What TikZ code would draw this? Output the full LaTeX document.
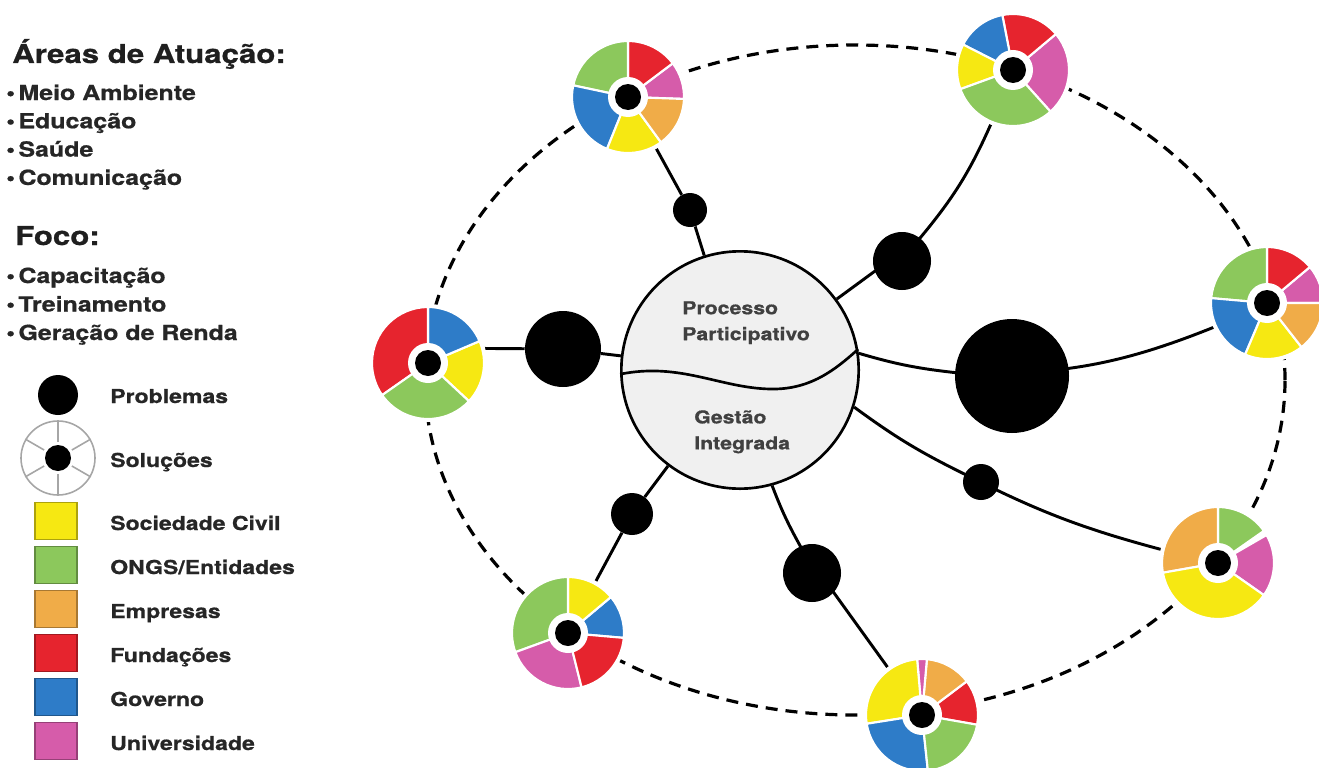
\documentclass[tikz,border=0pt]{standalone}
\usepackage{fontspec}
\setmainfont{TeX Gyre Heros}[FakeStretch=1.2, BoldFeatures={FakeBold=0.7}]

\definecolor{uYellow}{RGB}{246,232,18}
\definecolor{uGreen}{RGB}{140,200,92}
\definecolor{uOrange}{RGB}{240,172,72}
\definecolor{uRed}{RGB}{230,36,46}
\definecolor{uBlue}{RGB}{46,124,200}
\definecolor{uPink}{RGB}{214,92,170}

% #1 = centre, #2 = list of start/end/colour
\newcommand{\drawwheel}[2]{%
	\fill[white] (#1.center) circle (59);
	\foreach \a/\b/\col in {#2}{
			\fill[\col, draw=white, line width=1.6pt] (#1.center) -- ++(\a:56) arc[start angle=\a, end angle=\b, radius=56] -- cycle;
		}
	\fill[white] (#1.center) circle (20);
	\fill[black] (#1.center) circle (13);
}

\begin{document}
\begin{tikzpicture}[x=0.75pt, y=0.75pt,
		link/.style={line width=2.2pt},
		ring/.style={line width=2.4pt, dash pattern=on 9pt off 6pt},
		hub/.style={circle, draw, line width=2pt, fill=black!6, minimum size=178pt, inner sep=0pt},
		prob/.style={circle, fill=black, inner sep=0pt, minimum size=#1},
		wheel/.style={circle, inner sep=0pt, minimum size=84pt},
		hubtext/.style={font=\bfseries\fontsize{13.3}{19.5}\selectfont, text=black!75, align=left, inner sep=0pt},
		title/.style={font=\bfseries\fontsize{19.5}{22}\selectfont, text=black!88, inner sep=0pt},
		item/.style={font=\bfseries\fontsize{15.6}{18}\selectfont, text=black!85, inner sep=0pt},
		keylabel/.style={font=\bfseries\fontsize{14.4}{17}\selectfont, text=black!85, inner sep=0pt},
		key/.style={rectangle, line width=0.8pt, minimum width=31.5pt, minimum height=28pt, inner sep=0pt}]
	\useasboundingbox (0,0) rectangle (1319,-767);

	\draw[ring] (855,-380) ellipse [x radius=430, y radius=335];

	\node[hub] (hub) at (740,-370) {};
	\draw[line width=2pt] (hub.182) .. controls (680,-362) and (720,-388) .. (770,-389)
		.. controls (810,-390) and (835,-370) .. (hub.10);
	\node[hubtext, anchor=north west] (proc) at (682,-301) {Processo\\Participativo};
	\node[hubtext, anchor=north west] (gest) at (694,-410) {Gestão\\Integrada};

	\node[prob=25.5pt] (p1) at (690,-210) {};
	\node[prob=43.5pt] (p2) at (902,-261) {};
	\node[prob=57pt] (p3) at (563,-349) {};
	\node[prob=85.5pt] (p4) at (1012,-376) {};
	\node[prob=27pt] (p5) at (981,-482) {};
	\node[prob=31.5pt] (p6) at (632,-514) {};
	\node[prob=43.5pt] (p7) at (812,-573) {};

	\node[wheel] (w1) at (628,-97) {};
	\node[wheel] (w2) at (1013,-70) {};
	\node[wheel] (w3) at (1267,-303) {};
	\node[wheel] (w4) at (428,-363) {};
	\node[wheel] (w5) at (1218,-563) {};
	\node[wheel] (w6) at (568,-633) {};
	\node[wheel] (w7) at (922,-715) {};

	\draw[link] (w1) -- (p1) -- (hub);
	\draw[link] (w2) to[bend left=8] (p2) -- (hub);
	\draw[link] (w4.15) -- (p3) -- (hub);
	\draw[link] (hub.8) to[bend right=5] (p4) to[bend right=12] (w3);
	\draw[link] (hub.-18) to[bend right=5] (p5) to[bend right=6] (w5);
	\draw[link] (hub) -- (p6) -- (w6);
	\draw[link] (hub) to[bend right=4] (p7) -- (w7);

	\drawwheel{w1}{-2/37/uPink, 37/90/uRed, 90/168/uGreen, 168/248/uBlue, 248/306/uYellow, 306/358/uOrange}
	\drawwheel{w2}{-48/40/uPink, 40/101/uRed, 101/153/uBlue, 153/200/uYellow, 200/312/uGreen}
	\drawwheel{w3}{0/40/uPink, 40/90/uRed, 90/175/uGreen, 175/247/uBlue, 247/308/uYellow, 308/360/uOrange}
	\drawwheel{w4}{-43/23/uYellow, 23/90/uBlue, 90/215/uRed, 215/317/uGreen}
	\drawwheel{w5}{-35/30/uPink, 35/90/uGreen, 90/190/uOrange, 190/325/uYellow}
	\drawwheel{w6}{-5/40/uBlue, 40/90/uYellow, 90/200/uGreen, 200/284/uPink, 284/355/uRed}
	\drawwheel{w7}{-10/37/uRed, 37/85/uOrange, 85/95/uPink, 95/189/uYellow, 189/276/uBlue, 276/350/uGreen}

	% legend
	\node[title, anchor=base west] (areas) at (12,-63) {Áreas de Atuação:};
	\foreach \t [count=\i] in {Meio Ambiente, Educação, Saúde, Comunicação}
		\node[item, anchor=base west] (area\i) at (6,{-100-28.3*(\i-1)}) {•\,\t};
	\node[title, anchor=base west] (foco) at (15,-245) {Foco:};
	\foreach \t [count=\i] in {Capacitação, Treinamento, Geração de Renda}
		\node[item, anchor=base west] (foco\i) at (6,{-283-28.5*(\i-1)}) {•\,\t};

	\node[prob=30pt] (probkey) at (58,-395) {};
	\node[keylabel, anchor=base west] (problabel) at (110,-403) {Problemas};
	\node[circle, draw=black!35, line width=1.2pt, minimum size=55.5pt, inner sep=0pt] (solkey) at (58,-458) {};
	\foreach \a in {30,90,...,330}
		\draw[black!35, line width=1.2pt] (solkey.center) ++(\a:16) -- (solkey.\a);
	\fill[black] (solkey.center) circle (13);
	\node[keylabel, anchor=base west] (sollabel) at (110,-467) {Soluções};

	\foreach \col/\t [count=\i] in {uYellow/Sociedade Civil, uGreen/{ONGS/Entidades}, uOrange/Empresas, uRed/Fundações, uBlue/Governo, uPink/Universidade}{
			\node[key, fill=\col, draw=\col!70!black] (key\i) at (56,{-521-44*(\i-1)}) {};
			\node[keylabel, anchor=base west] (keylabel\i) at (110,{-530-44*(\i-1)}) {\t};
		}
\end{tikzpicture}
\end{document}
